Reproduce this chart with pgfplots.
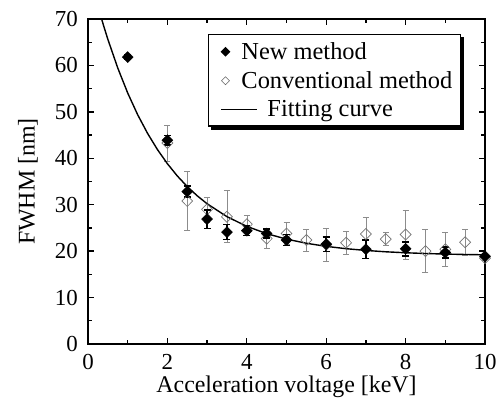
\documentclass[border=0pt]{standalone}
\usepackage{fontspec}
\setmainfont{Liberation Serif}
\usepackage{pgfplots}
\usepackage{pgfplotstable}
\pgfplotsset{compat=1.18}
\pgfplotsset{
  longline/.style={legend image code/.code={\draw[##1, overlay] (8bp,0cm) -- (44bp,0cm);}},
  onemark/.style={legend image code/.code={\draw[##1] plot coordinates {(12bp,0bp)};}}
}
\pgfplotstableread{
x y e
1 61.8 0.4
2 43.9 1.0
2.5 32.8 1.2
3 26.9 2.0
3.5 24.1 1.6
4 24.4 1.0
4.5 23.8 1.0
5 22.4 1.2
6 21.5 1.6
7 20.4 2.0
8 20.5 1.5
9 19.7 1.2
10 18.9 0.5
}\newdata
\pgfplotstableread{
x y e
2 43.3 3.9
2.5 30.8 6.3
3 29.0 2.7
3.5 27.4 5.6
4 25.8 2.0
4.5 22.7 2.0
5 23.8 2.4
5.5 22.4 2.4
6 21.4 3.5
6.5 21.8 2.5
7 23.7 3.5
7.5 22.6 1.4
8 23.6 5.3
8.5 20.0 4.6
9 20.4 3.6
9.5 21.9 2.8
10 18.5 0.5
}\convdata
\pgfplotstableread{
x y
0.3 71.25
0.4 68.36
0.5 65.63
0.75 59.44
1.0 54.06
1.25 49.40
1.5 45.37
1.75 41.87
2.0 38.83
2.25 36.19
2.5 33.91
2.75 31.93
3.0 30.21
3.5 27.43
4.0 25.34
4.5 23.77
5.0 22.59
5.5 21.70
6.0 21.03
6.5 20.53
7.0 20.15
7.5 19.86
8.0 19.65
8.5 19.49
9.0 19.37
9.5 19.28
10.0 19.21
}\fitdata
\begin{document}
\begin{tikzpicture}
\useasboundingbox (-88bp,-61bp) rectangle (411bp,344bp);
\begin{axis}[
  at={(0,0)}, anchor=south west,
  width=397bp, height=325bp, scale only axis,
  xmin=0, xmax=10, ymin=0, ymax=70,
  xtick={0,2,...,10}, ytick={0,10,...,70},
  minor xtick={1,3,...,9}, minor ytick={5,15,...,65},
  tick align=inside, major tick length=6bp, minor tick length=4bp,
  every tick/.style={line width=1.3bp, black},
  axis line style={line width=1.6bp},
  /pgf/number format/assume math mode=true,
  xticklabel style={font=\fontsize{23}{27}\selectfont, anchor=base, inner sep=0pt, yshift=-25bp},
  yticklabel style={font=\fontsize{23}{27}\selectfont, anchor=east, inner sep=0pt, xshift=-10bp},
  xlabel={Acceleration voltage [keV]},
  ylabel={FWHM [nm]},
  every axis x label/.style={at={(axis description cs:0.5,-0.148)}, anchor=base, inner sep=0pt, font=\fontsize{24}{28}\selectfont},
  every axis y label/.style={at={(axis description cs:-0.151,0.5)}, anchor=center, rotate=90, inner sep=0pt, font=\fontsize{24}{28}\selectfont},
  legend style={at={(rel axis cs:0.302,0.954)}, anchor=north west, name=leg,
    draw=black, line width=1.2bp, fill=white,
    font=\fontsize{24.5}{28}\selectfont, row sep=4.5bp, column sep=9bp,
    inner xsep=5bp, inner ysep=5bp,
    nodes={inner sep=3bp}},
  legend cell align=left,
]
\addlegendimage{only marks, mark=diamond*, mark size=4bp, black, mark options={xscale=1.33}, onemark}
\addlegendentry{New method}
\addlegendimage{only marks, mark=diamond, mark size=4bp, black!60, mark options={line width=0.6bp, xscale=1.33}, onemark}
\addlegendentry{Conventional method}
\addlegendimage{black, line width=1.4bp, longline}
\addlegendentry{\hspace{26bp}Fitting curve}

\addplot[forget plot, only marks, mark=diamond, mark size=5.5bp,
  mark options={draw=black!55, fill=white, line width=0.7bp, xscale=1.33},
  error bars/.cd, y dir=both, y explicit,
  error bar style={black!45, line width=0.6bp},
  error mark options={black!45, rotate=90, mark size=3bp, line width=0.6bp}]
  table[x=x, y=y, y error=e]{\convdata};
\addplot[forget plot, black, line width=1.4bp] table[x=x, y=y]{\fitdata};
\addplot[forget plot, only marks, mark=diamond*, mark size=5.5bp,
  mark options={black, xscale=1.33},
  error bars/.cd, y dir=both, y explicit,
  error bar style={black, line width=1.6bp},
  error mark options={black, rotate=90, mark size=3.5bp, line width=1.6bp}]
  table[x=x, y=y, y error=e]{\newdata};
\end{axis}
\fill[black] ([yshift=-3bp]leg.south east) rectangle ([xshift=3bp,yshift=-3bp]leg.north east);
\fill[black] ([xshift=3bp,yshift=-3bp]leg.south west) rectangle (leg.south east);
\end{tikzpicture}
\end{document}
